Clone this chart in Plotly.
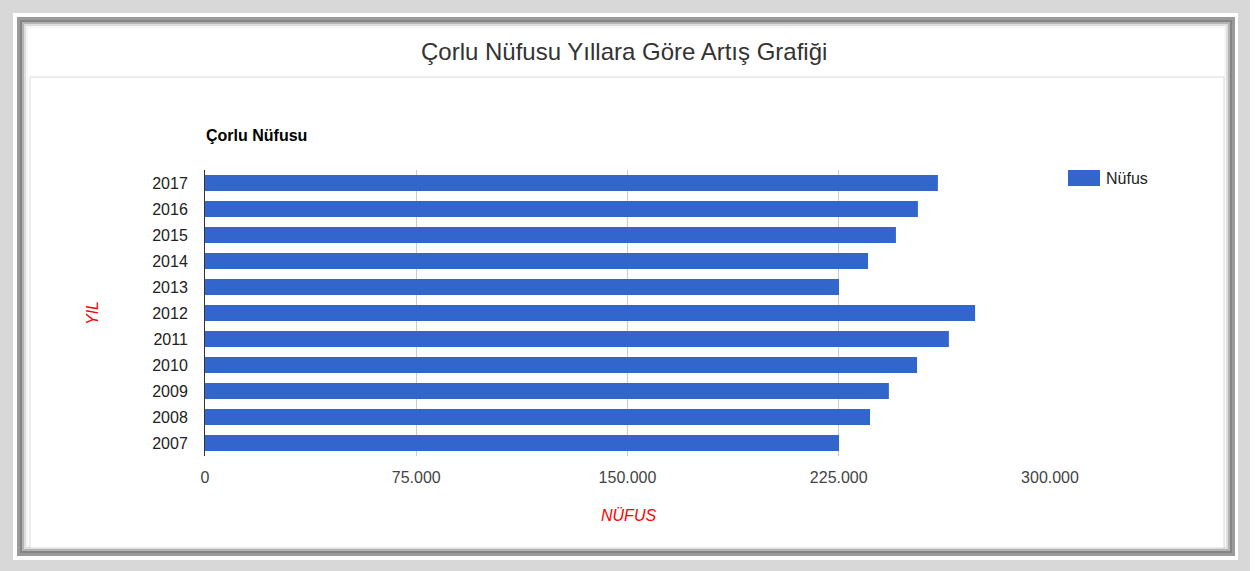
import plotly.graph_objects as go

# --- data ---
YEARS = ["2007", "2008", "2009", "2010", "2011", "2012", "2013", "2014", "2015", "2016", "2017"]
POPULATION = [225100, 236100, 242800, 252800, 264100, 273400, 225100, 235400, 245300, 253100, 260200]
X_TICKS = [0, 75000, 150000, 225000, 300000]
SERIES_NAME = "Nüfus"

PAGE_TITLE = "Çorlu Nüfusu Yıllara Göre Artış Grafiği"
CHART_TITLE = "Çorlu Nüfusu"
X_TITLE = "NÜFUS"
Y_TITLE = "YIL"

BAR_COLOR = "#3366cc"
FONT = "Liberation Sans, Arial, sans-serif"

# canvas + plot area in pixels
W, H = 1259, 571
L, R, T, B = 205, 1050, 170, 456


def px(x):
    return (x - L) / (R - L)


def py(y):
    return (B - y) / (B - T)


def rect(x0, y0, x1, y1, fill, line=None):
    return dict(
        type="rect", xref="paper", yref="paper", layer="below",
        x0=px(x0), x1=px(x1), y0=py(y1), y1=py(y0),
        fillcolor=fill,
        line=dict(width=1 if line else 0, color=line or "rgba(0,0,0,0)"),
    )


fig = go.Figure()
fig.add_trace(go.Bar(
    x=POPULATION, y=YEARS,
    orientation="h",
    name=SERIES_NAME,
    marker=dict(color=BAR_COLOR, line=dict(width=0)),
    showlegend=False,
))

# page frame (grey border with inner shadow) + inner chart panel
shapes = [
    rect(0, 0, 1250, 571, "#d8d8d8"),
    rect(13, 13, 1238, 560, "#ffffff"),
    rect(17, 17, 1235, 556, "#9a9a9a"),
    rect(20, 20, 1232, 553, "#858585"),
    rect(22, 22, 1230, 551, "#b4b4b4"),
    rect(24, 24, 1228, 549, "#dedede"),
    rect(26, 26, 1226, 547, "#f6f6f6"),
    rect(28, 28, 1224, 545, "#ffffff"),
    rect(30, 77, 1224, 548, "#ffffff", line="#dadada"),
    # legend swatch
    rect(1068, 170, 1100, 186, BAR_COLOR),
]

annotations = [
    dict(text=PAGE_TITLE, x=px(624), y=py(51), xref="paper", yref="paper",
         showarrow=False, xanchor="center", yanchor="middle",
         font=dict(family=FONT, size=24, color="#333333")),
    dict(text=f"<b>{CHART_TITLE}</b>", x=px(204), y=py(135), xref="paper", yref="paper",
         showarrow=False, xanchor="left", yanchor="middle",
         font=dict(family=FONT, size=16, color="#000000")),
    dict(text=f"<i>{Y_TITLE}</i>", x=px(92), y=py(313), xref="paper", yref="paper",
         showarrow=False, xanchor="center", yanchor="middle", textangle=-90,
         font=dict(family=FONT, size=16, color="#ff0000")),
    dict(text=f"<i>{X_TITLE}</i>", x=px(628), y=py(515), xref="paper", yref="paper",
         showarrow=False, xanchor="center", yanchor="middle",
         font=dict(family=FONT, size=16, color="#ff0000")),
    dict(text=SERIES_NAME, x=px(1104), y=py(178), xref="paper", yref="paper",
         showarrow=False, xanchor="left", yanchor="middle",
         font=dict(family=FONT, size=16, color="#222222")),
]

fig.update_layout(
    width=W, height=H,
    margin=dict(l=L, r=W - R, t=T, b=H - B, pad=0),
    paper_bgcolor="#ffffff",
    plot_bgcolor="rgba(0,0,0,0)",
    separators=",.",
    bargap=0.38,
    shapes=shapes,
    annotations=annotations,
    font=dict(family=FONT, size=16, color="#444444"),
    showlegend=False,
)
fig.update_xaxes(
    range=[0, 300000], tickvals=X_TICKS, tickformat=",d",
    showgrid=True, gridcolor="#cccccc", gridwidth=1,
    zeroline=False, showline=False,
    ticks="outside", ticklen=7, tickcolor="rgba(0,0,0,0)",
    tickfont=dict(family=FONT, size=16, color="#444444"),
    fixedrange=True,
)
fig.update_yaxes(
    type="category", categoryorder="array", categoryarray=YEARS,
    showgrid=False, zeroline=False,
    showline=True, linecolor="#333333", linewidth=1,
    ticks="outside", ticklen=13, tickcolor="rgba(0,0,0,0)",
    tickfont=dict(family=FONT, size=16, color="#222222"),
    fixedrange=True,
)

# drop the browser's default 8px body margin so the figure sits at (0, 0)
fig.write_html("out.html", post_script="document.body.style.margin = '0';",
               config={"displayModeBar": False})
